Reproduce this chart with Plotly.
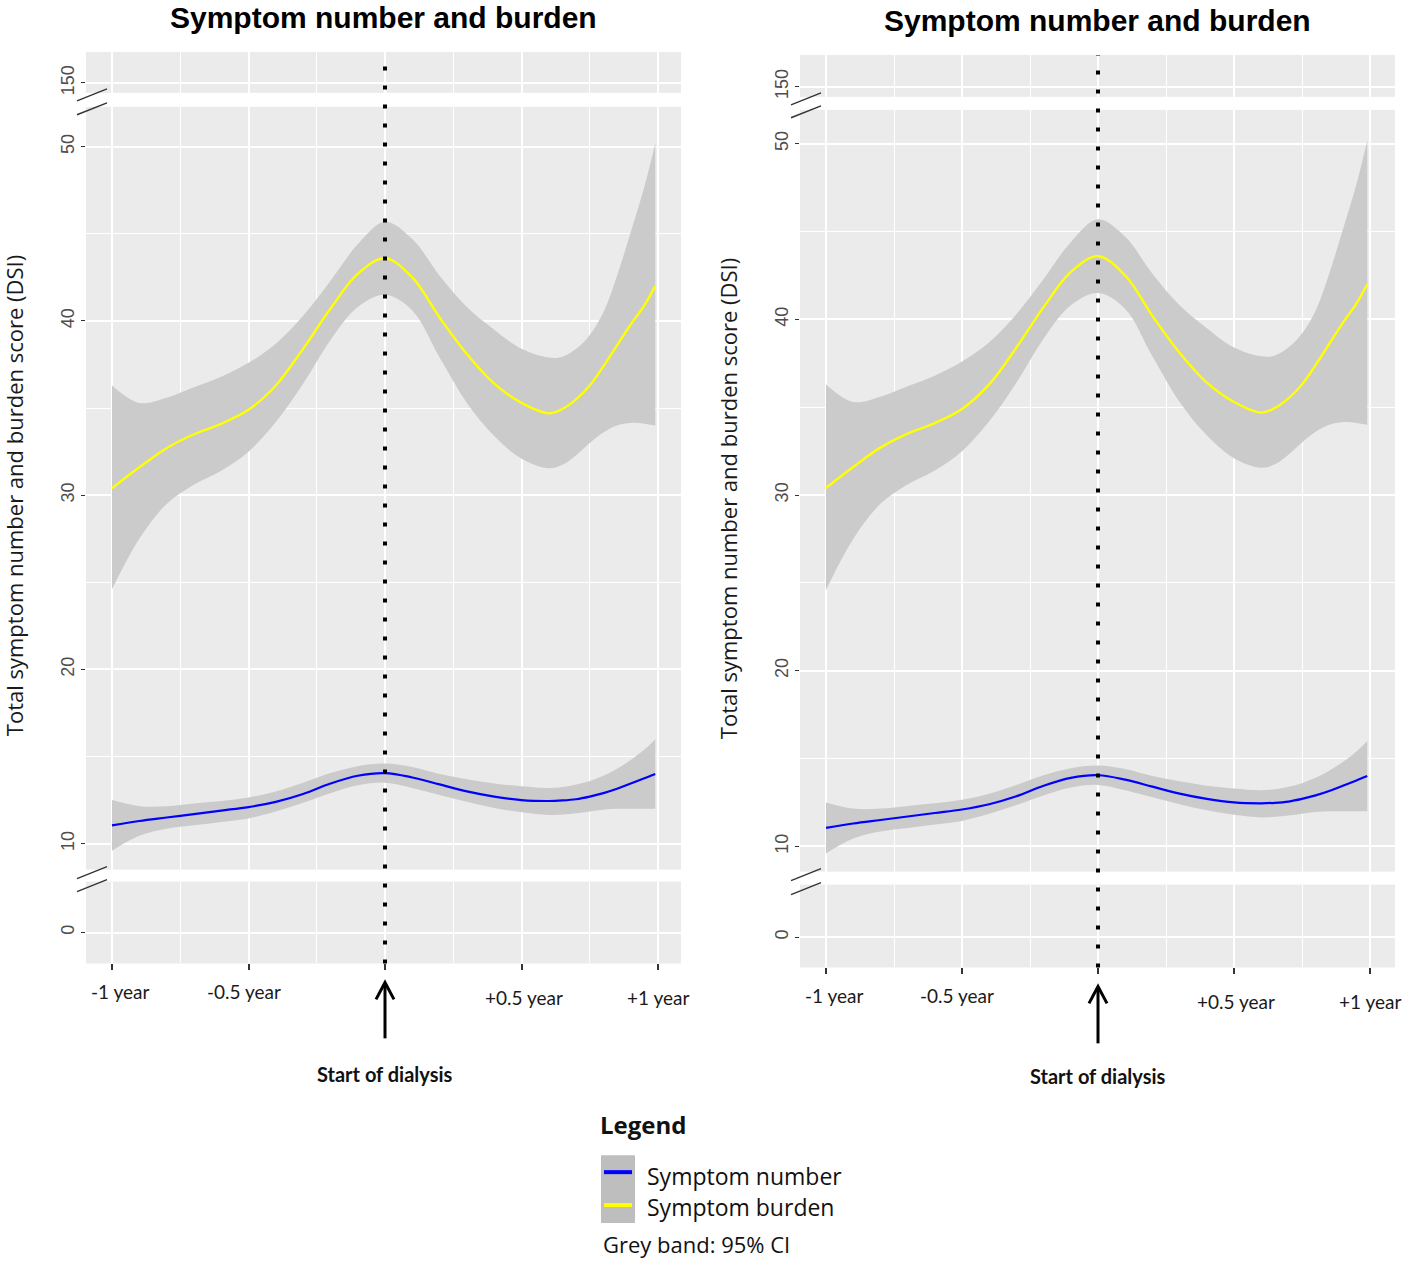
import plotly.graph_objects as go

# ---------------- data ----------------
time_years = [-1, -0.9, -0.8, -0.7, -0.6, -0.5, -0.4, -0.3, -0.2, -0.1, 0,
              0.1, 0.2, 0.3, 0.4, 0.5, 0.6, 0.65, 0.7, 0.75, 0.8, 0.85, 0.9, 0.95, 0.99]

burden_fit = [30.4, 31.6, 32.7, 33.5, 34.1, 34.9, 36.3, 38.4, 40.7, 42.7, 43.6,
              42.5, 40.2, 38.1, 36.4, 35.3, 34.7, 34.95, 35.5, 36.3, 37.4, 38.6, 39.8, 40.9, 42.0]
burden_upper = [36.3, 35.3, 35.6, 36.2, 36.8, 37.6, 38.7, 40.3, 42.3, 44.4, 45.7,
                44.7, 42.6, 40.8, 39.5, 38.4, 37.9, 37.95, 38.4, 39.2, 40.5, 42.6, 45.1, 47.7, 50.2]
burden_lower = [24.6, 27.5, 29.5, 30.6, 31.4, 32.5, 34.2, 36.4, 38.9, 40.8, 41.5,
                40.6, 37.9, 35.3, 33.4, 32.1, 31.55, 31.75, 32.3, 33.0, 33.6, 34.0, 34.15, 34.1, 34.0]

number_fit = [11.05, 11.3, 11.5, 11.7, 11.9, 12.1, 12.4, 12.85, 13.45, 13.9, 14.05,
              13.8, 13.4, 13.0, 12.7, 12.5, 12.45, 12.48, 12.55, 12.7, 12.9, 13.15, 13.45, 13.75, 14.0]
number_upper = [12.5, 12.15, 12.15, 12.3, 12.45, 12.65, 13.0, 13.5, 14.05, 14.45, 14.6,
                14.4, 14.0, 13.7, 13.45, 13.3, 13.2, 13.25, 13.4, 13.6, 13.9, 14.3, 14.8, 15.4, 16.0]
number_lower = [9.6, 10.45, 10.85, 11.05, 11.25, 11.45, 11.85, 12.35, 12.9, 13.35, 13.5,
                13.2, 12.8, 12.4, 12.05, 11.8, 11.65, 11.68, 11.75, 11.85, 11.95, 12.0, 12.0, 12.0, 12.0]

x_tick_vals = [-1, -0.5, 0, 0.5, 1]
x_minor_vals = [-0.75, -0.25, 0.25, 0.75]
x_label_vals = [-1, -0.5, 0.5, 1]
x_label_text = ["-1 year", "-0.5 year", "+0.5 year", "+1 year"]
y_main_ticks = [10, 20, 30, 40, 50]
y_main_minor = [15, 25, 35, 45]
y_top_ticks = [150]
y_bottom_ticks = [0]
dialysis_start = 0

panel_title = "Symptom number and burden"
y_title = "Total symptom number and burden score (DSI)"
dialysis_label = "Start of dialysis"
legend_title = "Legend"
legend_labels = ["Symptom number", "Symptom burden"]
legend_note = "Grey band: 95% CI"

# ---------------- styling / geometry ----------------
W, H = 1406, 1264
PANEL_BG = "#EBEBEB"
BAND = "#CBCBCB"
YELLOW = "#FFFF00"
BLUE = "#0000FF"
TICK_COL = "#333333"

# pixel geometry of each panel
PANELS = [
    dict(x0=86, x1=681, xm1=112, xp1=658,
         top=(52, 93), top_tick=83,
         main=(107, 871), main_50=147, main_10=845,
         bot=(883, 965), bot_tick=934,
         title=(383.5, 18), ytitle=(14, 497),
         arrow=(984, 1040), dial_y=1076),
    dict(x0=800, x1=1395, xm1=826, xp1=1370,
         top=(55, 97), top_tick=86.7,
         main=(110, 873), main_50=144, main_10=847.7,
         bot=(886, 969), bot_tick=938.7,
         title=(1097.5, 21), ytitle=(728, 500),
         arrow=(988, 1045), dial_y=1078),
]
label_dx = [8, -5, 2, 0]      # pixel nudges of the x labels
label_dy = [28, 28, 34, 34]   # distance below panel bottom


def px(x):
    return x / W


def py(y):
    return 1 - y / H


fig = go.Figure()
layout = dict(
    width=W, height=H,
    margin=dict(l=0, r=0, t=0, b=0),
    paper_bgcolor="white", plot_bgcolor=PANEL_BG,
    showlegend=False,
)
shapes = []
annotations = []

tick_font = dict(family="Liberation Sans, Arial", size=18, color="#4D4D4D")

for p, g in enumerate(PANELS):
    kb, km, kt = 3 * p + 1, 3 * p + 2, 3 * p + 3
    ppu_x = (g["xp1"] - g["xm1"]) / 2.0
    xr = [-1 - (g["xm1"] - g["x0"]) / ppu_x, 1 + (g["x1"] - g["xp1"]) / ppu_x]
    ppu_y = (g["main_10"] - g["main_50"]) / 40.0
    yr_main = [10 - (g["main"][1] - g["main_10"]) / ppu_y, 50 + (g["main_50"] - g["main"][0]) / ppu_y]
    yr_top = [150 - (g["top"][1] - g["top_tick"]) / ppu_y, 150 + (g["top_tick"] - g["top"][0]) / ppu_y]
    yr_bot = [0 - (g["bot"][1] - g["bot_tick"]) / ppu_y, 0 + (g["bot_tick"] - g["bot"][0]) / ppu_y]

    xdom = [px(g["x0"]), px(g["x1"])]
    strips = {
        kb: (g["bot"], yr_bot, y_bottom_ticks, []),
        km: (g["main"], yr_main, y_main_ticks, y_main_minor),
        kt: (g["top"], yr_top, y_top_ticks, []),
    }
    for k, (pix, yr, yt, ym) in strips.items():
        xk = "xaxis" if k == 1 else f"xaxis{k}"
        yk = "yaxis" if k == 1 else f"yaxis{k}"
        xid = "x" if k == 1 else f"x{k}"
        yid = "y" if k == 1 else f"y{k}"
        is_bottom = (k == kb)
        layout[xk] = dict(
            domain=xdom, range=xr, anchor=yid,
            tickvals=x_tick_vals, showticklabels=False,
            ticks="outside" if is_bottom else "", ticklen=6, tickwidth=1.5, tickcolor=TICK_COL,
            showgrid=True, gridcolor="white", gridwidth=1.7,
            minor=dict(tickvals=x_minor_vals, showgrid=True, gridcolor="white", gridwidth=1.4),
            zeroline=False, showline=False, fixedrange=True,
        )
        layout[yk] = dict(
            domain=[py(pix[1]), py(pix[0])], range=yr, anchor=xid,
            tickvals=yt, ticktext=[str(v) for v in yt], tickangle=-90,
            ticks="outside", ticklen=4, tickwidth=1.3, tickcolor=TICK_COL,
            tickfont=tick_font,
            showgrid=True, gridcolor="white", gridwidth=1.7,
            minor=dict(tickvals=ym, showgrid=True, gridcolor="white", gridwidth=1.4) if ym else dict(showgrid=False),
            zeroline=False, showline=False, fixedrange=True,
        )
        if k != km:
            fig.add_trace(go.Scatter(x=[dialysis_start], y=[yr[0] - 100], mode="markers",
                                     marker=dict(size=1, color="rgba(0,0,0,0)"),
                                     xaxis=xid, yaxis=yid, hoverinfo="skip", showlegend=False))

    xm = f"x{km}"
    ymn = f"y{km}"
    # confidence bands
    for lower, upper in ((number_lower, number_upper), (burden_lower, burden_upper)):
        fig.add_trace(go.Scatter(x=time_years, y=lower, mode="lines",
                                 line=dict(width=0, shape="spline", color=BAND),
                                 xaxis=xm, yaxis=ymn, hoverinfo="skip", showlegend=False))
        fig.add_trace(go.Scatter(x=time_years, y=upper, mode="lines", fill="tonexty",
                                 fillcolor=BAND, line=dict(width=0, shape="spline", color=BAND),
                                 xaxis=xm, yaxis=ymn, hoverinfo="skip", showlegend=False))
    # fitted curves
    fig.add_trace(go.Scatter(x=time_years, y=burden_fit, mode="lines", name=legend_labels[1],
                             line=dict(width=2.4, shape="spline", color=YELLOW),
                             xaxis=xm, yaxis=ymn, showlegend=False))
    fig.add_trace(go.Scatter(x=time_years, y=number_fit, mode="lines", name=legend_labels[0],
                             line=dict(width=2.2, shape="spline", color=BLUE),
                             xaxis=xm, yaxis=ymn, showlegend=False))

    # dotted line at start of dialysis across all strips
    shapes.append(dict(type="line", xref=xm, yref="paper",
                       x0=dialysis_start, x1=dialysis_start,
                       y0=py(g["bot"][1]), y1=py(g["top"][0]),
                       line=dict(color="black", width=4, dash="4px,15px"), layer="above"))

    # axis-break slashes
    for cy in (g["top"][1] + 2, g["main"][0] + 2, g["main"][1] + 3, g["bot"][0] + 4):
        shapes.append(dict(type="line", xref="paper", yref="paper",
                           x0=px(g["x0"] - 9), y0=py(cy + 6), x1=px(g["x0"] + 21), y1=py(cy - 6),
                           line=dict(color="#333333", width=1.5)))

    # arrow under the x axis
    a_tip, a_end = g["arrow"]
    hw = 9 / ppu_x
    shapes.append(dict(type="line", xref=xm, yref="paper",
                       x0=dialysis_start, x1=dialysis_start, y0=py(a_end), y1=py(a_tip + 1),
                       line=dict(color="black", width=3)))
    shapes.append(dict(type="path", xref=xm, yref="paper",
                       path=f"M {dialysis_start - hw},{py(a_tip + 17)} L {dialysis_start},{py(a_tip)} "
                            f"L {dialysis_start + hw},{py(a_tip + 17)}",
                       line=dict(color="black", width=3)))
    annotations.append(dict(text=f"<b>{dialysis_label}</b>", xref=xm, yref="paper",
                            x=dialysis_start, y=py(g["dial_y"]), showarrow=False,
                            xanchor="center", yanchor="middle",
                            font=dict(family="Lato", size=20, color="#111111")))

    # x tick labels
    xb = "x" if kb == 1 else f"x{kb}"
    for v, t, dx, dy in zip(x_label_vals, x_label_text, label_dx, label_dy):
        annotations.append(dict(text=t, xref=xb, yref="paper", x=v, y=py(g["bot"][1] + dy),
                                xshift=dx, showarrow=False, xanchor="center", yanchor="middle",
                                font=dict(family="Lato", size=19, color="#1A1A1A")))

    # panel title
    annotations.append(dict(text=f"<b>{panel_title}</b>", xref="paper", yref="paper",
                            x=px(g["title"][0]), y=py(g["title"][1]), showarrow=False,
                            xanchor="center", yanchor="middle",
                            font=dict(family="Liberation Sans, Arial", size=30, color="black")))
    # y axis title
    annotations.append(dict(text=y_title, xref="paper", yref="paper",
                            x=px(g["ytitle"][0]), y=py(g["ytitle"][1]), textangle=-90,
                            showarrow=False, xanchor="center", yanchor="middle",
                            font=dict(family="Open Sans", size=22, color="#1A1A1A")))

# ---------------- legend (drawn manually like the reference) ----------------
shapes.append(dict(type="rect", xref="paper", yref="paper",
                   x0=px(601), x1=px(635), y0=py(1225), y1=py(1157),
                   fillcolor="#BEBEBE", line=dict(width=0)))
for col, yy in ((BLUE, 1174), (YELLOW, 1207)):
    shapes.append(dict(type="line", xref="paper", yref="paper",
                       x0=px(604), x1=px(632), y0=py(yy), y1=py(yy),
                       line=dict(color=col, width=4)))
annotations.append(dict(text=f"<b>{legend_title}</b>", xref="paper", yref="paper",
                        x=px(598), y=py(1126), showarrow=False, xanchor="left", yanchor="middle",
                        font=dict(family="Open Sans", size=24, color="#111111")))
for lab, yy in zip(legend_labels, (1178, 1209)):
    annotations.append(dict(text=lab, xref="paper", yref="paper",
                            x=px(645), y=py(yy), showarrow=False, xanchor="left", yanchor="middle",
                            font=dict(family="Open Sans", size=23, color="#111111")))
annotations.append(dict(text=legend_note, xref="paper", yref="paper",
                        x=px(601), y=py(1246), showarrow=False, xanchor="left", yanchor="middle",
                        font=dict(family="Open Sans", size=22, color="#111111")))

layout["shapes"] = shapes
layout["annotations"] = annotations
fig.update_layout(**layout)
fig.write_html("out.html", config={"displayModeBar": False},
               post_script="document.body.style.margin='0px';document.body.style.overflow='hidden';")
